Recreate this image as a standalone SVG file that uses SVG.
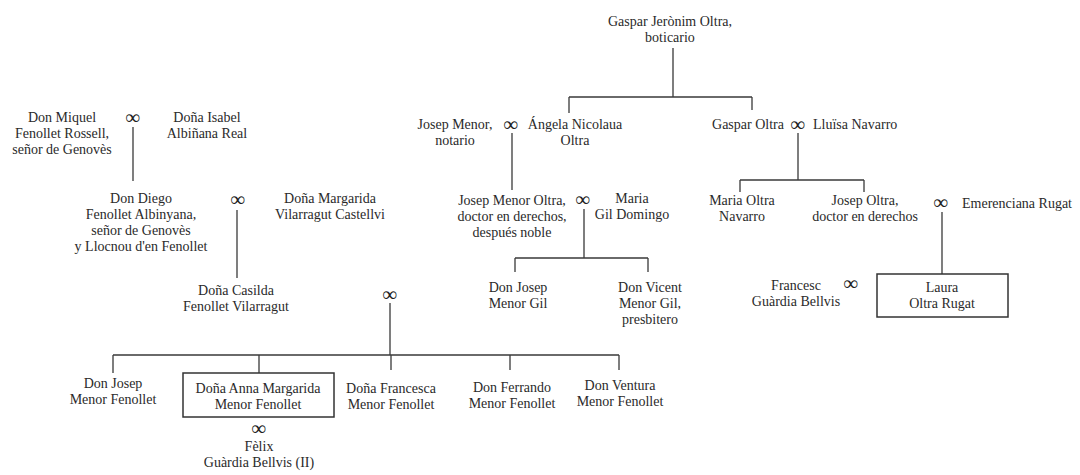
<svg xmlns="http://www.w3.org/2000/svg" width="1080" height="475" viewBox="0 0 1080 475" font-family="'Liberation Serif', 'DejaVu Serif', serif">
  <style>
    text { font-family: 'Liberation Serif', 'DejaVu Serif', serif; font-size: 14px; fill: #2a2a2a; }
    .c { text-anchor: middle; }
    .m { font-size: 20px; font-weight: bold; text-anchor: middle; fill: #222; }
    .ln { stroke: #3a3a3a; stroke-width: 1.3; fill: none; }
    .bx { stroke: #333; stroke-width: 1.5; fill: #fff; }
  </style>
  <rect width="1080" height="475" fill="#fff"/>

  <!-- connectors -->
  <g id="connectors" class="ln">
    <path d="M673,48 V97 M569,97 H752 M569,97 V113 M752,97 V110"/>
    <path d="M133,127 V181"/>
    <path d="M512,133 V190"/>
    <path d="M798,133 V180 M740,180 H864 M740,180 V192 M864,180 V192"/>
    <path d="M237,210 V278"/>
    <path d="M584,209 V258 M515,258 H648 M515,258 V272 M648,258 V272"/>
    <path d="M942,212 V274"/>
    <path d="M390,303 V355 M113,355 H619 M113,355 V373 M259,355 V373 M391,355 V370 M510,355 V370 M619,355 V370"/>
  </g>

  <!-- marriage signs -->
  <g id="marriages">
    <text class="m" x="133" y="124">∞</text>
    <text class="m" x="511" y="131">∞</text>
    <text class="m" x="798" y="131">∞</text>
    <text class="m" x="238" y="206">∞</text>
    <text class="m" x="583" y="206">∞</text>
    <text class="m" x="941" y="209">∞</text>
    <text class="m" x="851" y="290">∞</text>
    <text class="m" x="390" y="301">∞</text>
    <text class="m" x="259" y="435">∞</text>
  </g>

  <g id="n-gaspar-jeronim"><text class="c" x="670" y="26">Gaspar Jerònim Oltra,<tspan x="670" dy="16">boticario</tspan></text></g>
  <g id="n-josep-menor"><text class="c" x="455" y="129">Josep Menor,<tspan x="455" dy="16">notario</tspan></text></g>
  <g id="n-angela"><text class="c" x="575" y="129">Ángela Nicolaua<tspan x="575" dy="16">Oltra</tspan></text></g>
  <g id="n-gaspar-oltra"><text class="c" x="748" y="129">Gaspar Oltra</text></g>
  <g id="n-lluisa"><text x="813" y="129">Lluïsa Navarro</text></g>

  <g id="n-miquel"><text class="c" x="62" y="122">Don Miquel<tspan x="62" dy="16">Fenollet Rossell,</tspan><tspan x="62" dy="16">señor de Genovès</tspan></text></g>
  <g id="n-isabel"><text class="c" x="207" y="122">Doña Isabel<tspan x="207" dy="16">Albiñana Real</tspan></text></g>

  <g id="n-diego"><text class="c" x="141" y="203">Don Diego<tspan x="141" dy="16">Fenollet Albinyana,</tspan><tspan x="141" dy="16">señor de Genovès</tspan><tspan x="141" dy="16">y Llocnou d'en Fenollet</tspan></text></g>
  <g id="n-margarida"><text class="c" x="330" y="203">Doña Margarida<tspan x="330" dy="16">Vilarragut Castellvi</tspan></text></g>

  <g id="n-josep-menor-oltra"><text class="c" x="512" y="205">Josep Menor Oltra,<tspan x="512" dy="16">doctor en derechos,</tspan><tspan x="512" dy="16">después noble</tspan></text></g>
  <g id="n-maria-gil"><text class="c" x="632" y="203">Maria<tspan x="632" dy="16">Gil Domingo</tspan></text></g>

  <g id="n-maria-oltra"><text class="c" x="742" y="205">Maria Oltra<tspan x="742" dy="16">Navarro</tspan></text></g>
  <g id="n-josep-oltra"><text class="c" x="865" y="205">Josep Oltra,<tspan x="865" dy="16">doctor en derechos</tspan></text></g>
  <g id="n-emerenciana"><text x="962" y="208">Emerenciana Rugat</text></g>

  <g id="n-casilda"><text class="c" x="236" y="295">Doña Casilda<tspan x="236" dy="16">Fenollet Vilarragut</tspan></text></g>

  <g id="n-josep-menor-gil"><text class="c" x="518" y="292">Don Josep<tspan x="518" dy="16">Menor Gil</tspan></text></g>
  <g id="n-vicent"><text class="c" x="650" y="292">Don Vicent<tspan x="650" dy="16">Menor Gil,</tspan><tspan x="650" dy="16">presbitero</tspan></text></g>

  <g id="n-francesc"><text class="c" x="796" y="290">Francesc<tspan x="796" dy="16">Guàrdia Bellvis</tspan></text></g>
  <g id="n-laura">
    <rect class="bx" x="877" y="274" width="131" height="43"/>
    <text class="c" x="942" y="292">Laura<tspan x="942" dy="16">Oltra Rugat</tspan></text>
  </g>

  <g id="n-josep-menor-fenollet"><text class="c" x="113" y="388">Don Josep<tspan x="113" dy="16">Menor Fenollet</tspan></text></g>
  <g id="n-anna-margarida">
    <rect class="bx" x="183" y="373" width="151" height="44"/>
    <text class="c" x="258" y="393">Doña Anna Margarida<tspan x="258" dy="16">Menor Fenollet</tspan></text>
  </g>
  <g id="n-francesca"><text class="c" x="391" y="393">Doña Francesca<tspan x="391" dy="16">Menor Fenollet</tspan></text></g>
  <g id="n-ferrando"><text class="c" x="512" y="392">Don Ferrando<tspan x="512" dy="16">Menor Fenollet</tspan></text></g>
  <g id="n-ventura"><text class="c" x="620" y="390">Don Ventura<tspan x="620" dy="16">Menor Fenollet</tspan></text></g>
  <g id="n-felix"><text class="c" x="259" y="451">Fèlix<tspan x="259" dy="16">Guàrdia Bellvis (II)</tspan></text></g>
</svg>
